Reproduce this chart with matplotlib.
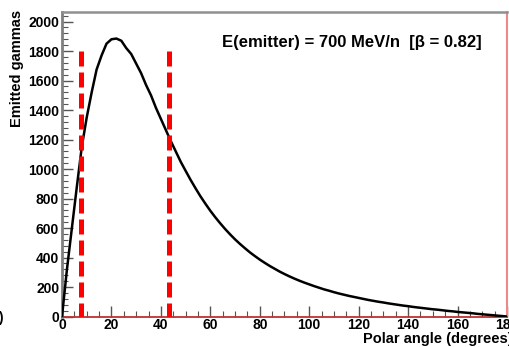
import matplotlib
matplotlib.use("Agg")
import matplotlib.pyplot as plt
from matplotlib.ticker import MultipleLocator

# Polar angle (degrees), bin centres read every 2 degrees
angles = [0, 2, 4, 6, 8, 10, 12, 14, 16, 18, 20, 22, 24, 26, 28, 30, 32, 34, 36, 38,
          40, 42, 44, 46, 48, 50, 52, 54, 56, 58, 60, 62, 64, 66, 68, 70, 72, 74, 76, 78,
          80, 82, 84, 86, 88, 90, 92, 94, 96, 98, 100, 102, 104, 106, 108, 110, 112, 114,
          116, 118, 120, 122, 124, 126, 128, 130, 132, 134, 136, 138, 140, 142, 144, 146,
          148, 150, 152, 154, 156, 158, 160, 162, 164, 166, 168, 170, 172, 174, 176, 178, 180]
# Emitted gammas
counts = [0, 320, 600, 880, 1150, 1350, 1520, 1675, 1770, 1850, 1880, 1885, 1870, 1820, 1780,
          1715, 1650, 1570, 1500, 1415, 1340, 1265, 1190, 1120, 1050, 988, 927, 870, 815, 765,
          717, 673, 632, 593, 557, 523, 492, 463, 435, 410, 386, 364, 343, 324, 305, 288, 272,
          257, 243, 230, 218, 206, 195, 184, 175, 165, 156, 148, 140, 133, 126, 119, 112, 106,
          100, 95, 89, 84, 79, 74, 70, 65, 61, 57, 53, 49, 46, 42, 38, 35, 31, 28, 25, 22, 18,
          15, 12, 9, 6, 3, 0]
# Dashed marker lines (degrees) and their height
marker_angles = [7.7, 43.4]
marker_top = 1800

title_text = "E(emitter) = 700 MeV/n  [\u03b2 = 0.82]"

plt.rcParams['font.family'] = ['Liberation Sans', 'DejaVu Sans']
plt.rcParams['font.weight'] = 'bold'

fig = plt.figure(figsize=(5.10, 3.47), dpi=100)
ax = fig.add_axes([62 / 510, 1 - 316.5 / 347, (507 - 62) / 510, (316.5 - 12) / 347])

ax.plot(angles, counts, color='black', lw=1.8, zorder=3)
for xa in marker_angles:
    ln, = ax.plot([xa, xa], [marker_top, 0], color='#ff0000', lw=3.6, zorder=4)
    ln.set_dashes([3.0, 1.2])

ax.set_xlim(0, 180)
ax.set_ylim(0, 2065)
ax.xaxis.set_major_locator(MultipleLocator(20))
ax.xaxis.set_minor_locator(MultipleLocator(5))
ax.yaxis.set_major_locator(MultipleLocator(200))
ax.yaxis.set_minor_locator(MultipleLocator(40))

ax.tick_params(axis='both', which='major', direction='in', length=8, width=1.0,
               color='#555555', labelsize=10, pad=2)
ax.tick_params(axis='both', which='minor', direction='in', length=4.5, width=0.8,
               color='#555555')
ax.tick_params(axis='x', pad=1)
for lab in ax.get_xticklabels() + ax.get_yticklabels():
    lab.set_fontweight('bold')

ax.spines['left'].set_color('#808080')
ax.spines['left'].set_linewidth(2.0)
ax.spines['top'].set_color('#909090')
ax.spines['top'].set_linewidth(1.8)
ax.spines['bottom'].set_color('#c03030')
ax.spines['bottom'].set_linewidth(1.3)
ax.spines['right'].set_color('#f08888')
ax.spines['right'].set_linewidth(1.5)

ax.text(222 / 510, 1 - 42 / 347, title_text, transform=fig.transFigure,
        fontsize=12, fontweight='bold', ha='left', va='center')

fig.text(17 / 510, 1 - 10 / 347, "Emitted gammas", rotation=90, ha='center', va='top',
         fontsize=10.5, fontweight='bold')
fig.text(363 / 510, 1 - 339 / 347, "Polar angle (degrees)", ha='left', va='center',
         fontsize=10.5, fontweight='bold')
fig.text(0 / 510, 1 - 318 / 347, ")", ha='center', va='center', fontsize=10)

fig.savefig("out.png", dpi=100)
